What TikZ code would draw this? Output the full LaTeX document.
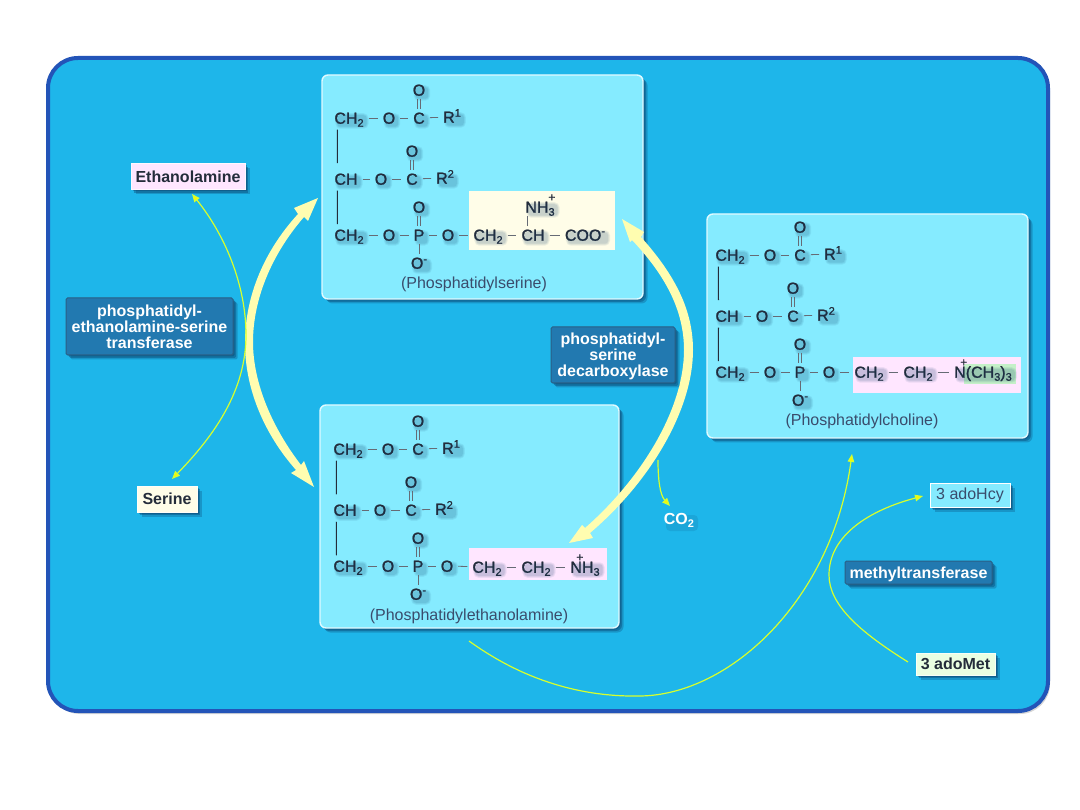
\documentclass[tikz,border=0pt]{standalone}
\usepackage{fontspec}
\setmainfont{Liberation Sans}
\newfontfamily\atomfont[FakeBold=1.2]{Liberation Sans}
\usetikzlibrary{arrows.meta,shadows}
\definecolor{seaback}{HTML}{1EB6EA}
\definecolor{frameblue}{HTML}{2354B8}
\definecolor{panelcyan}{HTML}{85EBFF}
\definecolor{enzymeblue}{HTML}{2279B0}
\definecolor{enzymeedge}{HTML}{2A5F85}
\definecolor{wirelime}{HTML}{D6FF2E}
\definecolor{creamarrow}{HTML}{FFFDB0}
\definecolor{creamfill}{HTML}{FFFDE8}
\definecolor{pinkfill}{HTML}{FFE6FF}
\definecolor{greenfill}{HTML}{C4F0C8}
\definecolor{mintfill}{HTML}{EAFFE2}
\definecolor{inkdark}{HTML}{242C3A}
\definecolor{captionink}{HTML}{3A4C6C}
\definecolor{shadeblue}{HTML}{0A3A66}
\newcommand{\subr}[1]{\raisebox{-3pt}{\fontsize{11}{11}\selectfont #1}}
\newcommand{\supr}[1]{\raisebox{6pt}{\fontsize{11}{11}\selectfont #1}}
\newcommand{\plusover}[1]{\rlap{\hspace{#1}\raisebox{11.5pt}{\fontsize{12}{12}\selectfont +}}}
\tikzset{
  softcast/.style={
    general shadow={shadow xshift=1.5pt,shadow yshift=-1.5pt,fill=shadeblue,opacity=.36},
    general shadow={shadow xshift=3pt,shadow yshift=-3pt,fill=shadeblue,opacity=.36},
    general shadow={shadow xshift=4.5pt,shadow yshift=-4.5pt,fill=shadeblue,opacity=.26}},
  panelbox/.style={softcast,draw=white!75!panelcyan,line width=1.4pt,fill=panelcyan,
    rounded corners=6pt,inner sep=0pt,outer sep=0pt},
  enzymebox/.style={softcast,draw=enzymeedge,line width=1pt,fill=enzymeblue,rounded corners=1.5pt,
    inner sep=0pt,text=white,align=center,font=\fontsize{16}{16}\selectfont\bfseries},
  namecard/.style={softcast,draw=white!70!#1,line width=1pt,fill=#1,inner sep=0pt,
    text=inkdark,font=\fontsize{16}{16}\selectfont\bfseries},
  atomtext/.style={text=inkdark,font=\fontsize{16}{16}\atomfont,text height=11.5pt,text depth=0pt,
    inner xsep=5pt,inner ysep=3pt,outer sep=0pt},
  caption/.style={text=captionink,font=\fontsize{16}{16}\selectfont,inner sep=0pt},
  bondline/.style={draw=inkdark!70,line width=.8pt},
  backbar/.style={draw=inkdark,line width=1.1pt},
  inkshade/.style={fill=shadeblue,opacity=#1},
  wire/.style={draw=wirelime,line width=1.2pt},
  wiretip/.style={-{Triangle[length=8pt,width=6.5pt,fill=yellow]}},
  wiretips/.style={{Triangle[length=8pt,width=6.5pt,fill=yellow]}-{Triangle[length=8pt,width=6.5pt,fill=yellow]}},
  bigarrow/.style={fill=creamarrow},
}
% an atom label with the soft ink cast it leaves on the panel
\newcommand{\atom}[3]{%
  \node[atomtext] (#1) at (#2) {#3};
  \fill[inkshade=.07,rounded corners=5pt] ([shift={(6,4)}]#1.north west) rectangle ([shift={(0,2)}]#1.south east);
  \fill[inkshade=.08,rounded corners=4pt] ([shift={(7,5)}]#1.north west) rectangle ([shift={(-1,1)}]#1.south east);
  \fill[inkshade=.09,rounded corners=3pt] ([shift={(8,6)}]#1.north west) rectangle ([shift={(-2,0)}]#1.south east);
}
% the glycerol part shared by the three phospholipids
\newcommand{\backbone}{%
  \atom{ch2a}{0,0}{CH\subr{2}}
  \atom{oa}{40,0}{O}
  \atom{ca}{70,0}{C}
  \atom{ra}{103,-1}{R\supr{1}}
  \atom{oat}{70,-28}{O}
  \atom{chb}{-3,61}{CH}
  \atom{ob}{32,61}{O}
  \atom{cb}{63,61}{C}
  \atom{rb}{96,60}{R\supr{2}}
  \atom{obt}{63,33}{O}
  \atom{chc}{0,117}{CH\subr{2}}
  \atom{oc}{40,117}{O}
  \atom{pp}{70,117}{P}
  \atom{oe}{99,117}{O}
  \atom{opt}{70,89}{O}
  \atom{opb}{70,145}{O\supr{-}}
  \draw[bondline] (ch2a) -- (oa);
  \draw[bondline] (oa) -- (ca);
  \draw[bondline] (ca) -- (ra);
  \draw[bondline] (chb) -- (ob);
  \draw[bondline] (ob) -- (cb);
  \draw[bondline] (cb) -- (rb);
  \draw[bondline] (chc) -- (oc);
  \draw[bondline] (oc) -- (pp);
  \draw[bondline] (pp) -- (oe);
  \draw[bondline] (pp) -- (opb);
  \foreach \upper/\lower in {oat/ca,obt/cb,opt/pp}{
    \draw[bondline] ([xshift=-1.6pt]\upper.south) -- ([xshift=-1.6pt]\lower.north);
    \draw[bondline] ([xshift=1.6pt]\upper.south) -- ([xshift=1.6pt]\lower.north);
  }
  \draw[backbar] ([shift={(8,3)}]ch2a.south west) -- ([shift={(8,-7)}]chb.north west);
  \draw[backbar] ([shift={(8,3)}]chb.south west) -- ([shift={(8,-2)}]chc.north west);
}
\begin{document}
\begin{tikzpicture}[x=1pt,y=-1pt]
\useasboundingbox (0,0) rectangle (1080,810);
\fill[white] (0,0) rectangle (1080,810);

% outer frame
\node[draw=frameblue,line width=4pt,fill=seaback,rounded corners=30pt,inner sep=0pt,
  minimum width=1000pt,minimum height=653pt,
  general shadow={shadow xshift=2pt,shadow yshift=-3pt,fill=black,opacity=.16}]
  (frame) at (548,384.5) {};

% the three lipid panels and their coloured head groups
\node[panelbox,minimum width=321pt,minimum height=224pt] (pspanel) at (482.5,187) {};
\node[panelbox,minimum width=299pt,minimum height=223pt] (pepanel) at (469.5,516.5) {};
\node[panelbox,minimum width=321pt,minimum height=224pt] (pcpanel) at (867.5,326) {};
\fill[creamfill] (469,191) rectangle (615,250);
\fill[pinkfill] (469,548) rectangle (607,580);
\fill[pinkfill] (853,357) rectangle (1021,393);
\fill[greenfill] (964,364) rectangle (1016,384);

% phosphatidylserine
\begin{scope}[shift={(349,118)},name prefix=ps-]
  \backbone
  \atom{t1}{139,117}{CH\subr{2}}
  \atom{t2}{184,117}{CH}
  \atom{t3}{236,117}{COO\supr{-}}
  \atom{t4}{191,89}{\plusover{23pt}NH\subr{3}}
  \draw[bondline] (oe) -- (t1);
  \draw[bondline] (t1) -- (t2);
  \draw[bondline] (t2) -- (t3);
  \draw[bondline] ([xshift=-6pt]t2.north) -- ([xshift=-13pt]t4.south);
\end{scope}
\node[caption] (pscap) at (474,284) {(Phosphatidylserine)};

% phosphatidylethanolamine
\begin{scope}[shift={(348,449)},name prefix=pe-]
  \backbone
  \atom{t1}{139,118}{CH\subr{2}}
  \atom{t2}{188,118}{CH\subr{2}}
  \atom{t3}{237,118}{\plusover{6pt}NH\subr{3}}
  \draw[bondline] (oe) -- (t1);
  \draw[bondline] (t1) -- (t2);
  \draw[bondline] (t2) -- (t3);
\end{scope}
\node[caption] (pecap) at (469,616) {(Phosphatidylethanolamine)};

% phosphatidylcholine
\begin{scope}[shift={(730,255)},name prefix=pc-]
  \backbone
  \atom{t1}{139,117}{CH\subr{2}}
  \atom{t2}{188,117}{CH\subr{2}}
  \atom{t3}{253,117}{\plusover{6pt}N(CH\subr{3})\subr{3}}
  \draw[bondline] (oe) -- (t1);
  \draw[bondline] (t1) -- (t2);
  \draw[bondline] (t2) -- (t3);
\end{scope}
\node[caption] (pccap) at (862,421) {(Phosphatidylcholine)};

% end points of the reaction arrows
\coordinate (psleft) at (318,198);
\coordinate (peleft) at (314,487);
\coordinate (psright) at (622,219);
\coordinate (peright) at (569,543);

% exchange arrow between the two panels on the left
\fill[bigarrow] (psleft) -- (308,221) -- (304,217)
  .. controls (271,255) and (253,300) .. (253,342)
  .. controls (253,385) and (274,430) .. (301,465)
  -- (304,461) -- (peleft) -- (291,473) -- (296,470)
  .. controls (265,435) and (245,390) .. (245,343)
  .. controls (245,295) and (265,250) .. (298,214)
  -- (294,208) -- cycle;

% decarboxylation arrow on the right, running both ways as printed
\fill[bigarrow] (psright) -- (644,232) -- (641,237)
  .. controls (675,275) and (693,310) .. (693,350)
  .. controls (693,410) and (650,482) .. (590,533)
  -- (593,538) -- (peright) -- (582,525) -- (585,528)
  .. controls (640,480) and (684,410) .. (684,350)
  .. controls (684,310) and (665,275) .. (632,240)
  -- (630,242) -- cycle;

% substrate and by-product cards
\node[namecard=pinkfill,minimum width=114pt,minimum height=26pt] (etn) at (188,177) {Ethanolamine};
\node[namecard=creamfill,minimum width=60pt,minimum height=26pt] (ser) at (167,499) {Serine};
\node[softcast,draw=white,line width=1pt,fill=panelcyan,minimum width=80pt,minimum height=24pt,inner sep=0pt,
  text=captionink,font=\fontsize{16}{16}\selectfont] (hcy) at (970,495) {3 adoHcy};
\node[namecard=mintfill,minimum width=79pt,minimum height=22pt] (met) at (955.5,664) {3 adoMet};

% enzymes
\node[enzymebox,minimum width=167pt,minimum height=57pt] (ptrans) at (149.5,326.5)
  {phosphatidyl-\\ethanolamine-serine\\transferase};
\node[enzymebox,minimum width=124pt,minimum height=56pt] (pdecarb) at (613,355)
  {\rule{0pt}{15pt}phosphatidyl-\\serine\\decarboxylase};
\node[enzymebox,minimum width=147pt,minimum height=23pt] (mtrans) at (918.5,572.5) {\rule{0pt}{16pt}methyltransferase};

% thin side reactions
\coordinate (etntip) at (192,194);
\coordinate (sertip) at (172,479);
\coordinate (co2start) at (658,460);
\coordinate (co2tip) at (670,506);
\coordinate (peout) at (469,641);
\coordinate (pcin) at (852,454);
\coordinate (metout) at (908,662);
\coordinate (hcytip) at (923,496);

\draw[wire,wiretips]
  (etntip) .. controls (225,235) and (246,285) .. (246,335)
  .. controls (246,390) and (215,435) .. (sertip);
\draw[wire,wiretip] (co2start) .. controls (658,480) and (660,495) .. (co2tip);
\draw[wire,wiretip] (peout) .. controls (530,685) and (590,697) .. (640,696)
  .. controls (730,695) and (832,600) .. (pcin);
\draw[wire,wiretip] (metout) .. controls (860,632) and (829,605) .. (829,575)
  .. controls (829,535) and (870,510) .. (hcytip);

% carbon dioxide label
\fill[inkshade=.12,rounded corners=4pt] (666,515) rectangle (698,531);
\node[text=white,font=\fontsize{16}{16}\selectfont\bfseries,inner sep=0pt] (co2) at (679,520) {CO\subr{2}};
\end{tikzpicture}
\end{document}
